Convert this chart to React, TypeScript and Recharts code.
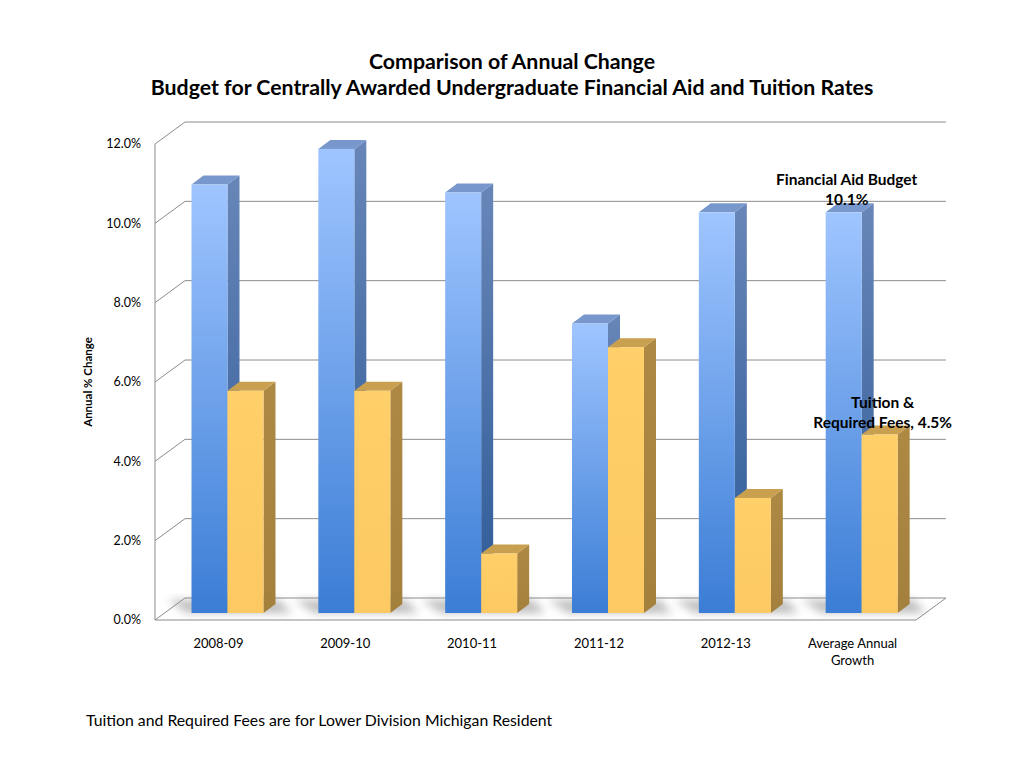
import { Bar, BarChart, CartesianGrid, LabelList, Text, XAxis, YAxis } from 'recharts';

// ----------------------------------------------------------------------

const periods = ['2008-09', '2009-10', '2010-11', '2011-12', '2012-13', 'Average Annual Growth'];
const aidBudget = [10.8, 11.7, 10.6, 7.3, 10.1, 10.1];
const tuitionFees = [5.6, 5.6, 1.5, 6.7, 2.9, 4.5];
const yTicks = [0, 2, 4, 6, 8, 10, 12];

const data = periods.map((period, i) => ({ period, aid: aidBudget[i], tuition: tuitionFees[i] }));

const FONT = 'Lato, "Open Sans", "Liberation Sans", sans-serif';
const W = 1024;
const H = 768;
const MARGIN = { top: 144, right: 108, left: 95, bottom: 118 };
const X_AXIS_H = 30;
const PLOT_BOTTOM = H - MARGIN.bottom - X_AXIS_H;

// 3D look: depth of the back wall, where bars sit, and bar thickness
const WALL = { dx: 30, dy: -22 };
const SEAT = { dx: 9.5, dy: -7 };
const DEPTH = { dx: 12, dy: -9 };
const GRID = '#8c8c8c';

const makeShape = (front: string, side: string, top: string, withShadow: boolean) => (props: any) => {
  const { x, y, width, height } = props;
  if (height == null || width == null) return null;
  const fx = x + SEAT.dx;
  const fy = y + SEAT.dy;
  const w = width;
  const h = height;
  const base = fy + h;
  const back = PLOT_BOTTOM + WALL.dy;
  return (
    <g>
      {withShadow && (
        <polygon
          fill='#8a8a8a'
          filter='url(#floorBlur)'
          opacity={0.55}
          points={`${fx - 4},${base} ${fx + 2 * w + DEPTH.dx + 16},${base} ${fx + 2 * w + DEPTH.dx + 4},${back + 2} ${fx - 24},${back + 2}`}
        />
      )}
      <polygon
        fill={`url(#${side})`}
        points={`${fx + w},${fy} ${fx + w + DEPTH.dx},${fy + DEPTH.dy} ${fx + w + DEPTH.dx},${fy + h + DEPTH.dy} ${fx + w},${fy + h}`}
      />
      <polygon
        fill={top}
        points={`${fx},${fy} ${fx + DEPTH.dx},${fy + DEPTH.dy} ${fx + w + DEPTH.dx},${fy + DEPTH.dy} ${fx + w},${fy}`}
      />
      <rect fill={`url(#${front})`} height={h} width={w} x={fx} y={fy} />
    </g>
  );
};

const AidShape = makeShape('aidFront', 'aidSide', '#7897cc', true);
const TuitionShape = makeShape('tuiFront', 'tuiSide', '#c8a04f', false);

const gridLine = (props: any) => {
  const { x1, y1, x2, index } = props;
  const isFloor = Math.abs(y1 - PLOT_BOTTOM) < 0.5;
  return (
    <g key={`grid-${index}`}>
      {isFloor && (
        <path d={`M${x1},${y1} L${x2},${y1} L${x2 + WALL.dx},${y1 + WALL.dy}`} fill='none' stroke={GRID} strokeWidth={1} />
      )}
      <path
        d={`M${x1},${y1} L${x1 + WALL.dx},${y1 + WALL.dy} L${x2 + WALL.dx},${y1 + WALL.dy}`}
        fill='none'
        stroke={GRID}
        strokeWidth={1}
      />
    </g>
  );
};

const CategoryTick = (props: any) => {
  const { x, y, payload } = props;
  return (
    <Text
      fill='#000'
      fontFamily={FONT}
      fontSize={13}
      lineHeight='1.3em'
      textAnchor='middle'
      verticalAnchor='start'
      width={130}
      x={x}
      y={y}
    >
      {payload.value}
    </Text>
  );
};

const noteStyle = { fontFamily: FONT, fontSize: 15.5, fontWeight: 700, fill: '#000' };

const AidNote = (props: any) => {
  const { x, y, width, index, value } = props;
  if (index !== periods.length - 1) return null;
  const cx = x + SEAT.dx + width / 2 + 3;
  const top = y + SEAT.dy;
  return (
    <g>
      <text {...noteStyle} dominantBaseline='central' textAnchor='middle' x={cx} y={top - 33}>
        Financial Aid Budget
      </text>
      <text {...noteStyle} dominantBaseline='central' textAnchor='middle' x={cx} y={top - 13}>
        {`${value.toFixed(1)}%`}
      </text>
    </g>
  );
};

const TuitionNote = (props: any) => {
  const { x, y, width, index, value } = props;
  if (index !== periods.length - 1) return null;
  const cx = x + SEAT.dx + width / 2 + 3;
  const top = y + SEAT.dy;
  return (
    <g>
      <text {...noteStyle} dominantBaseline='central' textAnchor='middle' x={cx} y={top - 33}>
        Tuition &amp;
      </text>
      <text {...noteStyle} dominantBaseline='central' textAnchor='middle' x={cx} y={top - 13}>
        {`Required Fees, ${value.toFixed(1)}%`}
      </text>
    </g>
  );
};

export default function App() {
  return (
    <div style={{ position: 'absolute', left: 0, top: 0, width: W, height: H, background: '#fff', fontFamily: FONT }}>
      <div
        style={{
          position: 'absolute',
          top: 48,
          left: 0,
          width: W,
          textAlign: 'center',
          fontSize: 21.3,
          fontWeight: 700,
          lineHeight: '26px',
          color: '#000',
        }}
      >
        Comparison of Annual Change
        <br />
        Budget for Centrally Awarded Undergraduate Financial Aid and Tuition Rates
      </div>
      <div
        style={{
          position: 'absolute',
          left: 88 - 60,
          top: 382 - 8,
          width: 120,
          height: 16,
          lineHeight: '16px',
          textAlign: 'center',
          fontSize: 11.5,
          fontWeight: 700,
          transform: 'rotate(-90deg)',
          whiteSpace: 'nowrap',
        }}
      >
        Annual % Change
      </div>
      <BarChart barCategoryGap={0} barGap={0} barSize={36} data={data} height={H} margin={MARGIN} width={W}>
        <defs>
          <linearGradient id='aidFront' x1='0' x2='0' y1='0' y2='1'>
            <stop offset='0%' stopColor='#9fc5ff' />
            <stop offset='100%' stopColor='#3b7dd5' />
          </linearGradient>
          <linearGradient id='aidSide' x1='0' x2='0' y1='0' y2='1'>
            <stop offset='0%' stopColor='#6886b8' />
            <stop offset='100%' stopColor='#2c5a97' />
          </linearGradient>
          <linearGradient id='tuiFront' x1='0' x2='0' y1='0' y2='1'>
            <stop offset='0%' stopColor='#ffcf69' />
            <stop offset='100%' stopColor='#fcc962' />
          </linearGradient>
          <linearGradient id='tuiSide' x1='0' x2='0' y1='0' y2='1'>
            <stop offset='0%' stopColor='#ad8944' />
            <stop offset='100%' stopColor='#a3803c' />
          </linearGradient>
          <filter height='200%' id='floorBlur' width='200%' x='-50%' y='-50%'>
            <feGaussianBlur stdDeviation='4' />
          </filter>
        </defs>
        <CartesianGrid horizontal={gridLine} vertical={false} />
        <XAxis
          axisLine={false}
          dataKey='period'
          height={X_AXIS_H}
          interval={0}
          tick={CategoryTick}
          tickLine={false}
          tickMargin={19}
          tickSize={0}
        />
        <YAxis
          axisLine={{ stroke: GRID, strokeWidth: 1 }}
          domain={[0, 12]}
          tick={{ fill: '#000', fontFamily: FONT, fontSize: 12.5 }}
          tickFormatter={(v: number) => `${v.toFixed(1)}%`}
          tickLine={false}
          tickMargin={14}
          tickSize={0}
          ticks={yTicks}
          width={60}
        />
        <Bar dataKey='aid' isAnimationActive={false} name='Financial Aid Budget' shape={AidShape}>
          <LabelList content={AidNote} dataKey='aid' />
        </Bar>
        <Bar dataKey='tuition' isAnimationActive={false} name='Tuition & Required Fees' shape={TuitionShape}>
          <LabelList content={TuitionNote} dataKey='tuition' />
        </Bar>
      </BarChart>
      <div style={{ position: 'absolute', left: 86, top: 710, fontSize: 15.8, color: '#000', whiteSpace: 'nowrap' }}>
        Tuition and Required Fees are for Lower Division Michigan Resident
      </div>
    </div>
  );
}
